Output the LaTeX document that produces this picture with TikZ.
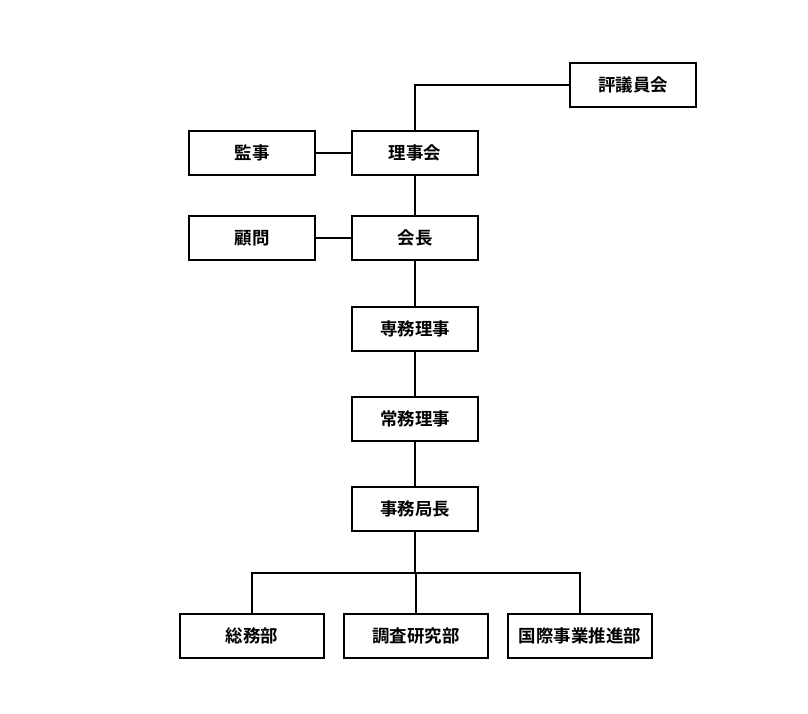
\documentclass[tikz,border=0pt]{standalone}
\usepackage{fontspec}
\newfontfamily\jpfont{Noto Sans CJK JP}[BoldFont={Noto Sans CJK JP Bold}]
\usetikzlibrary{positioning}
\tikzset{
  font=\jpfont\bfseries\fontsize{12.4}{15}\selectfont,
  unit/.style={
    draw=black, line width=0.8pt, fill=white, text=black,
    align=center, inner sep=2pt, minimum height=1.1cm,
    minimum width=3.15cm
  },
  dept/.style={unit, minimum width=3.6cm},
  link/.style={draw=black, line width=0.8pt}
}

\begin{document}
\begin{tikzpicture}[x=0.025cm,y=-0.025cm]
  \useasboundingbox (0,0) rectangle (808,713);

  % upper level
  \node[unit] (council)  at (633,85)  {評議員会};
  \node[unit] (auditor)  at (252,153) {監事};
  \node[unit] (board)    at (415,153) {理事会};
  \node[unit] (advisor)  at (252,238) {顧問};
  \node[unit] (chair)    at (415,238) {会長};

  % executive line
  \node[unit] (senmu)    at (415,329) {専務理事};
  \node[unit] (jomu)     at (415,419) {常務理事};
  \node[unit] (director) at (415,509) {事務局長};

  % departments
  \node[dept] (general)  at (252,636) {総務部};
  \node[dept] (research) at (416,636) {調査研究部};
  \node[dept] (intl)     at (580,636) {国際事業推進部};

  \coordinate (split) at (415,573);

  % edges
  \draw[link] (council.west) -| (board.north);
  \draw[link] (auditor) -- (board);
  \draw[link] (advisor) -- (chair);
  \draw[link] (board) -- (chair);
  \draw[link] (chair) -- (senmu);
  \draw[link] (senmu) -- (jomu);
  \draw[link] (jomu) -- (director);
  \draw[link] (director) -- (split);
  \draw[link] (general.north) |- (split) -| (intl.north);
  \draw[link] (research.north) -- (research.north |- split);
\end{tikzpicture}
\end{document}
